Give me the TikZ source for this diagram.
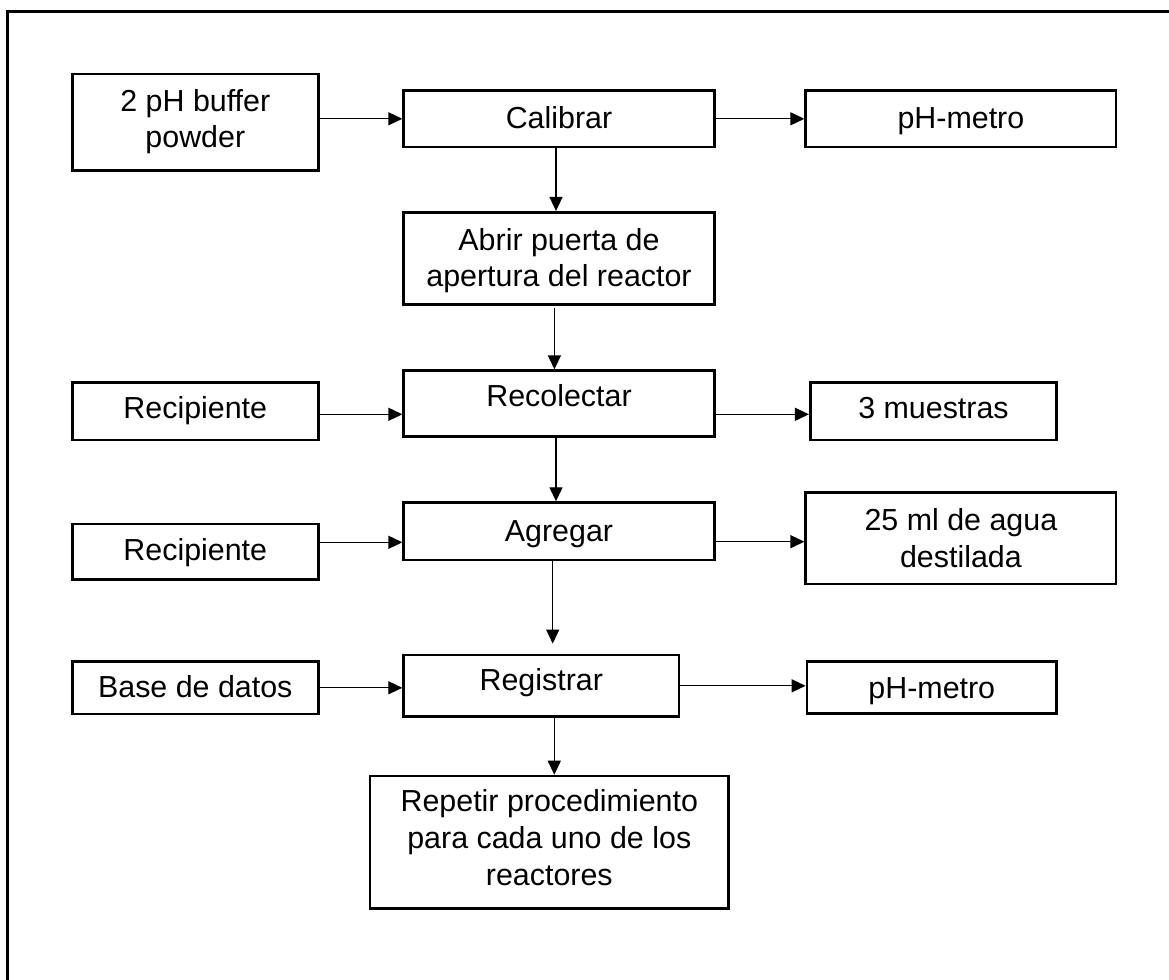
\documentclass[tikz,border=0pt]{standalone}
\usepackage{fontspec}
\setmainfont{Liberation Sans}
\usetikzlibrary{arrows.meta}

\begin{document}
\begin{tikzpicture}[x=0.5pt, y=-0.5pt,
  box/.style={draw, line width=1.35pt, inner sep=0pt, fill=white},
  lbl/.style={anchor=base, inner sep=0pt, font=\fontsize{15.2pt}{18.3pt}\selectfont},
  flow/.style={line width=0.65pt, -{Triangle[length=7pt, width=6.5pt]}}]

  % page and the open frame (top and left edges only)
  \useasboundingbox[fill=white] (0,0) rectangle (1169,980);
  \draw[line width=1.5pt] (7.3,980) -- (7.3,11) -- (1169,11);

  % left column: inputs
  \node[box, minimum width=123pt, minimum height=48.15pt] (buf)  at (195.3,122.2) {};
  \node[box, minimum width=123pt, minimum height=28.65pt] (rec1) at (195.3,411.3) {};
  \node[box, minimum width=123pt, minimum height=27.65pt] (rec2) at (195.3,551.7) {};
  \node[box, minimum width=123pt, minimum height=26.15pt] (bas)  at (195.3,687.8) {};

  % middle column: process steps
  \node[box, minimum width=155.3pt, minimum height=28.15pt] (cal) at (559,118.8) {};
  \node[box, minimum width=155.3pt, minimum height=46pt]    (abr) at (559,258.3) {};
  \node[box, minimum width=155.3pt, minimum height=33pt]    (rcl) at (559,403.7) {};
  \node[box, minimum width=155.3pt, minimum height=28.65pt] (agr) at (559,531.3) {};
  \node[box, minimum width=137.65pt, minimum height=30.85pt] (reg) at (541.3,685.8) {};
  \node[box, minimum width=179.35pt, minimum height=66.15pt] (rep) at (549.3,842.2) {};

  % right column: outputs
  \node[box, minimum width=155.15pt, minimum height=28.15pt] (ph1) at (960.9,118.8) {};
  \node[box, minimum width=123.2pt,  minimum height=28.65pt] (mue) at (933.5,411.3) {};
  \node[box, minimum width=155.15pt, minimum height=45.85pt] (agu) at (960.9,538.2) {};
  \node[box, minimum width=124.85pt, minimum height=25.8pt]  (ph2) at (931.8,687.5) {};

  % texts, set on their baselines
  \node[lbl] (buf-a) at (195.3,111.7) {2 pH buffer};
  \node[lbl] (buf-b) at (195.3,147.7) {powder};
  \node[lbl] (rec1-t) at (195.3,418.3) {Recipiente};
  \node[lbl] (rec2-t) at (195.3,560) {Recipiente};
  \node[lbl] (bas-t) at (195.3,697.3) {Base de datos};

  \node[lbl] (cal-t) at (559,128.3) {Calibrar};
  \node[lbl] (abr-a) at (559,250) {Abrir puerta de};
  \node[lbl] (abr-b) at (559,286.7) {apertura del reactor};
  \node[lbl] (rcl-t) at (559,406.7) {Recolectar};
  \node[lbl] (agr-t) at (559,541.7) {Agregar};
  \node[lbl] (reg-t) at (541.3,690.7) {Registrar};
  \node[lbl] (rep-a) at (549.3,811.7) {Repetir procedimiento};
  \node[lbl] (rep-b) at (549.3,848.3) {para cada uno de los};
  \node[lbl] (rep-c) at (549.3,885) {reactores};

  \node[lbl] (ph1-t) at (960.9,128.3) {pH-metro};
  \node[lbl] (mue-t) at (933.5,418.3) {3 muestras};
  \node[lbl] (agu-a) at (960.9,530) {25 ml de agua};
  \node[lbl] (agu-b) at (960.9,567.3) {destilada};
  \node[lbl] (ph2-t) at (931.8,698.3) {pH-metro};

  % horizontal connectors
  \draw[flow] (buf.east |- cal.west) -- (cal.west);
  \draw[flow] (cal.east) -- (ph1.west);
  \draw[flow] ([yshift=-1.5pt]rec1.east) -- ([yshift=-1.5pt]rec1.east -| rcl.west);
  \draw[flow] ([yshift=-1.5pt]mue.west -| rcl.east) -- ([yshift=-1.5pt]mue.west);
  \draw[flow] ([yshift=4.7pt]rec2.east) -- ([yshift=4.7pt]rec2.east -| agr.west);
  \draw[flow] ([yshift=-5.2pt]agr.east) -- ([yshift=-5.2pt]agr.east -| agu.west);
  \draw[flow] (bas.east) -- (bas.east -| reg.west);
  \draw[flow] (reg.east) -- (reg.east -| ph2.west);

  % vertical connectors
  \draw[flow] ([xshift=-1.5pt]cal.south) -- ([xshift=-1.5pt]abr.north);
  \draw[flow] ([xshift=-2.3pt, yshift=-1pt]abr.south) -- ([xshift=-2.3pt]rcl.north);
  \draw[flow] ([xshift=-1.5pt]rcl.south) -- ([xshift=-1.5pt]agr.north);
  \draw[flow] ([xshift=-3.15pt]agr.south) -- ([xshift=-3.15pt, yshift=5pt]agr.south |- reg.north);
  \draw[flow] ([xshift=6.5pt]reg.south) -- ([xshift=6.5pt]reg.south |- rep.north);
\end{tikzpicture}
\end{document}
